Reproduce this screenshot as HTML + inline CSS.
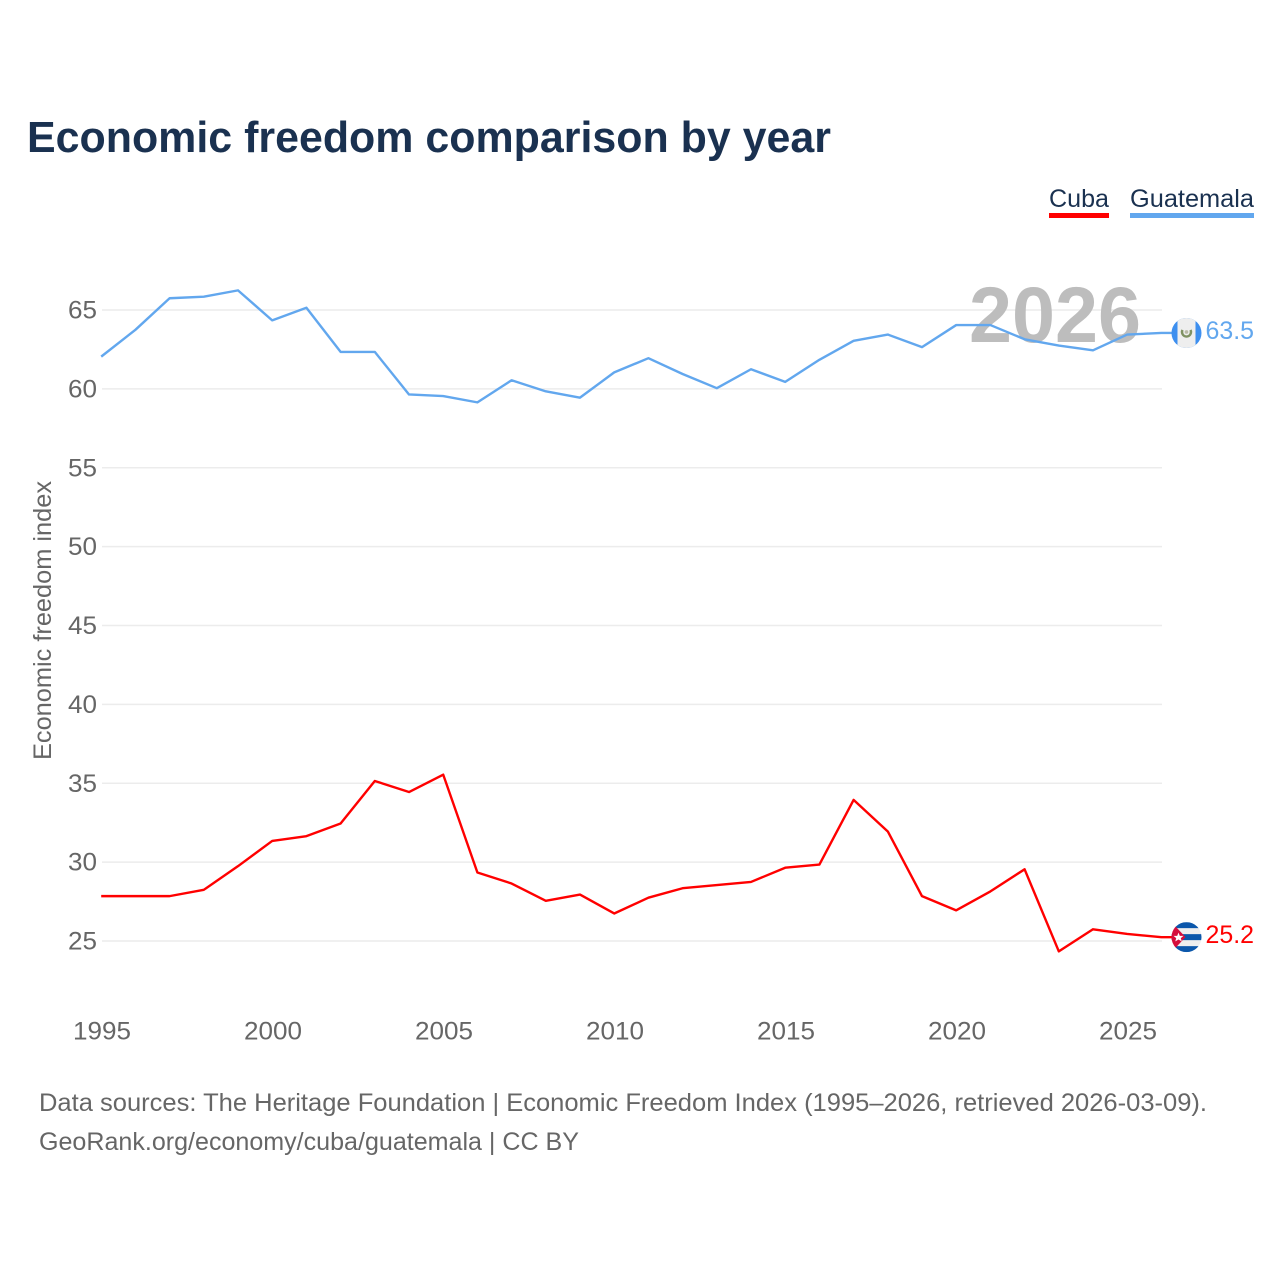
<!DOCTYPE html>
<html lang="en">
<head>
<meta charset="utf-8">
<title>Economic freedom comparison by year</title>
<style>
html,body{margin:0;padding:0;background:#fff;}
svg{display:block;}
text{font-family:"Liberation Sans",sans-serif;}
</style>
</head>
<body>
<svg id="chart" width="1280" height="1280" viewBox="0 0 1280 1280" xmlns="http://www.w3.org/2000/svg">
  <rect width="1280" height="1280" fill="#ffffff"/>
  <text x="27" y="152" font-size="44" font-weight="700" fill="#1a3150" textLength="804" lengthAdjust="spacingAndGlyphs">Economic freedom comparison by year</text>
  <g>
    <text x="1049" y="207" font-size="25" fill="#1a3150" textLength="60" lengthAdjust="spacingAndGlyphs">Cuba</text>
    <rect x="1049" y="213" width="60" height="5" fill="#ff0000"/>
  </g>
  <g>
    <text x="1130" y="207" font-size="25" fill="#1a3150" textLength="124" lengthAdjust="spacingAndGlyphs">Guatemala</text>
    <rect x="1130" y="213" width="124" height="5" fill="#62a7ee"/>
  </g>
  <g id="grid"></g>
  <g id="yticks"></g>
  <g id="xticks"></g>
  <text transform="translate(51,760) rotate(-90)" font-size="25" fill="#666666" textLength="279" lengthAdjust="spacingAndGlyphs">Economic freedom index</text>
  <text x="969" y="342" font-size="79" font-weight="700" fill="#bdbdbd" textLength="172" lengthAdjust="spacingAndGlyphs">2026</text>
  <g id="series"></g>
  <defs>
    <clipPath id="clip-gt"><circle id="clip-gt-c" r="15"/></clipPath>
    <clipPath id="clip-cu"><circle id="clip-cu-c" r="15"/></clipPath>
  </defs>
  <g id="flag-gt" clip-path="url(#clip-gt)">
    <g id="flag-gt-inner"></g>
  </g>
  <g id="flag-cu" clip-path="url(#clip-cu)">
    <g id="flag-cu-inner"></g>
  </g>
  <text id="end-gt" x="1205.5" font-size="25" fill="#62a7ee" textLength="48.5" lengthAdjust="spacingAndGlyphs"></text>
  <text id="end-cu" x="1205.5" font-size="25" fill="#ff0000" textLength="48.5" lengthAdjust="spacingAndGlyphs"></text>
  <text x="39" y="1111" font-size="25" fill="#666666" textLength="1168" lengthAdjust="spacingAndGlyphs">Data sources: The Heritage Foundation | Economic Freedom Index (1995–2026, retrieved 2026-03-09).</text>
  <text x="39" y="1150" font-size="25" fill="#666666" textLength="540" lengthAdjust="spacingAndGlyphs">GeoRank.org/economy/cuba/guatemala | CC BY</text>
</svg>
<script>
const years = [1995,1996,1997,1998,1999,2000,2001,2002,2003,2004,2005,2006,2007,2008,2009,2010,2011,2012,2013,2014,2015,2016,2017,2018,2019,2020,2021,2022,2023,2024,2025,2026];
const guatemala = [62.0,63.7,65.7,65.8,66.2,64.3,65.1,62.3,62.3,59.6,59.5,59.1,60.5,59.8,59.4,61.0,61.9,60.9,60.0,61.2,60.4,61.8,63.0,63.4,62.6,64.0,64.0,63.1,62.7,62.4,63.4,63.5];
const cuba = [27.8,27.8,27.8,28.2,29.7,31.3,31.6,32.4,35.1,34.4,35.5,29.3,28.6,27.5,27.9,26.7,27.7,28.3,28.5,28.7,29.6,29.8,33.9,31.9,27.8,26.9,28.1,29.5,24.3,25.7,25.4,25.2];
const yTickValues = [25,30,35,40,45,50,55,60,65];
const xTickValues = [1995,2000,2005,2010,2015,2020,2025];

const NS = 'http://www.w3.org/2000/svg';
function xScale(v){ return 102 + (v - 1995) * (1128 - 102) / 30; }
function yScale(v){ return 941 - (v - 25) * (941 - 310) / 40; }
const markDx = -0.8;
const markDy = -0.7;
function make(tag, attrs, parent){
  const el = document.createElementNS(NS, tag);
  for (const k in attrs) el.setAttribute(k, attrs[k]);
  parent.appendChild(el);
  return el;
}
const grid = document.getElementById('grid');
const yticks = document.getElementById('yticks');
const xticks = document.getElementById('xticks');
const seriesG = document.getElementById('series');

yTickValues.forEach(function(v){
  const line = make('line', {x1:102, x2:1162, y1:yScale(v), y2:yScale(v), stroke:'#ececec', 'stroke-width':1.6}, grid);
  
  
  const t = make('text', {x:97, y:yScale(v)+8.5, 'text-anchor':'end', 'font-size':25, fill:'#666666', textLength:29, lengthAdjust:'spacingAndGlyphs'}, yticks);
  
  
  t.textContent = v;
});
xTickValues.forEach(function(v){
  const t = make('text', {x:xScale(v), y:1039.5, 'text-anchor':'middle', 'font-size':25, fill:'#666666', textLength:58, lengthAdjust:'spacingAndGlyphs'}, xticks);
  
  
  t.textContent = v;
});

function drawSeries(values, color, name){
  const pts = values.map(function(v,i){ return (xScale(years[i])+markDx).toFixed(2) + ',' + (yScale(v)+markDy).toFixed(2); });
  pts.push('1172,' + (yScale(values[values.length-1])+markDy).toFixed(2));
  const p = make('polyline', {points:pts.join(' '), fill:'none', stroke:color, 'stroke-width':2.4, 'stroke-linejoin':'round'}, seriesG);
  
  
}
drawSeries(cuba, '#ff0000', 'line-cuba');
drawSeries(guatemala, '#62a7ee', 'line-guatemala');

/* end-of-line flags and value labels follow the last data values */
const flagX = 1186.5;
const gy = yScale(guatemala[guatemala.length-1]) + markDy;
const cy = yScale(cuba[cuba.length-1]) + markDy;
document.getElementById('clip-gt-c').setAttribute('cx', flagX);
document.getElementById('clip-gt-c').setAttribute('cy', gy);
document.getElementById('clip-cu-c').setAttribute('cx', flagX);
document.getElementById('clip-cu-c').setAttribute('cy', cy);

const gtF = document.getElementById('flag-gt-inner');
make('rect', {x:flagX-15, y:gy-15, width:30, height:30, fill:'#3d8fef'}, gtF);
make('rect', {x:flagX-9, y:gy-15, width:18, height:30, fill:'#eeeeee'}, gtF);
make('path', {d:'M'+(flagX-4)+' '+(gy-3)+' A4.5 4.5 0 1 0 '+(flagX+4)+' '+(gy-3), fill:'none', stroke:'#7f9162', 'stroke-width':2.4}, gtF);
make('circle', {cx:flagX, cy:gy-1, r:1.8, fill:'#b9b9a6'}, gtF);

const cuF = document.getElementById('flag-cu-inner');
make('rect', {x:flagX-15, y:cy-15, width:30, height:30, fill:'#eeeeee'}, cuF);
[-15,-3,9].forEach(function(o){
  make('rect', {x:flagX-15, y:cy+o, width:30, height:6, fill:'#0b57ab'}, cuF);
});
make('polygon', {points:(flagX-15)+','+(cy-15)+' '+(flagX-1)+','+cy+' '+(flagX-15)+','+(cy+15), fill:'#d50d3c'}, cuF);
make('polygon', {points:(flagX-8)+','+(cy-4.5)+' '+(flagX-6.7)+','+(cy-1.3)+' '+(flagX-3)+','+(cy-1.3)+' '+(flagX-5.7)+','+(cy+1)+' '+(flagX-4.8)+','+(cy+4.2)+' '+(flagX-8)+','+(cy+2.3)+' '+(flagX-11.2)+','+(cy+4.2)+' '+(flagX-10.3)+','+(cy+1)+' '+(flagX-13)+','+(cy-1.3)+' '+(flagX-9.3)+','+(cy-1.3), fill:'#ffffff'}, cuF);

const endG = document.getElementById('end-gt');
endG.setAttribute('y', gy + 6);
endG.textContent = guatemala[guatemala.length-1].toFixed(1);
const endC = document.getElementById('end-cu');
endC.setAttribute('y', cy + 6);
endC.textContent = cuba[cuba.length-1].toFixed(1);
</script>
</body>
</html>
